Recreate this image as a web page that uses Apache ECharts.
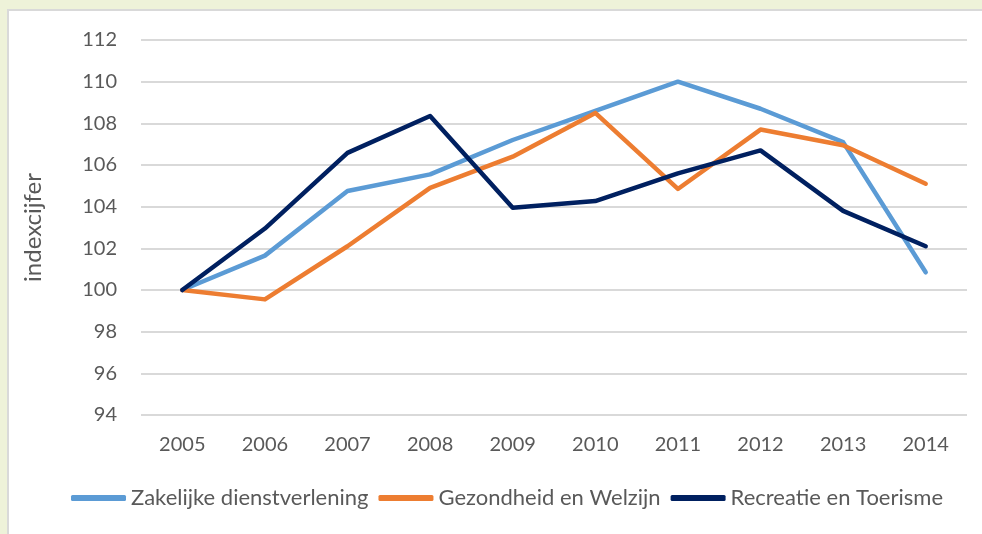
<!DOCTYPE html>
<html lang="nl">
<head>
    <meta charset="UTF-8">
    <title>Indexcijfers</title>
    <script src="https://cdn.jsdelivr.net/npm/echarts@6/dist/echarts.min.js"></script>
    <style>
        html, body { margin: 0; padding: 0; background: #eef2d9; }
        #chart { width: 982px; height: 534px; }
    </style>
</head>
<body>
<div id="chart"></div>
<script type="text/javascript">
    // jaren op de x-as
    var years = ['2005', '2006', '2007', '2008', '2009', '2010', '2011', '2012', '2013', '2014'];
    var zakelijk = [100, 101.65, 104.75, 105.55, 107.2, 108.6, 110.0, 108.7, 107.1, 100.85];
    var gezondheid = [100, 99.55, 102.1, 104.9, 106.4, 108.5, 104.85, 107.7, 106.95, 105.1];
    var recreatie = [100, 102.95, 106.58, 108.35, 103.95, 104.27, 105.6, 106.7, 103.8, 102.1];
    var seriesNames = ['Zakelijke dienstverlening', 'Gezondheid en Welzijn', 'Recreatie en Toerisme'];

    var txt = '#595959';
    var font = 'Lato, "Open Sans", sans-serif';

    function lijn(name, data, color) {
        return {
            name: name,
            type: 'line',
            data: data,
            symbol: 'none',
            lineStyle: { color: color, width: 4.5, cap: 'round', join: 'round' },
            itemStyle: { color: color }
        };
    }

    var chart = echarts.init(document.getElementById('chart'));
    chart.setOption({
        backgroundColor: '#eef2d9',
        textStyle: { fontFamily: font },
        graphic: [{
            type: 'rect',
            silent: true,
            z: -10,
            shape: { x: 8, y: 10, width: 1000, height: 600 },
            style: { fill: '#ffffff', stroke: '#d9d9d9', lineWidth: 2 }
        }],
        grid: { left: 141, right: 15, top: 40, bottom: 119 },
        legend: {
            bottom: 20,
            left: 66,
            itemWidth: 55,
            itemHeight: 6,
            itemGap: 10,
            icon: 'roundRect',
            textStyle: { color: txt, fontSize: 22, fontFamily: font },
            data: seriesNames
        },
        xAxis: {
            type: 'category',
            data: years,
            boundaryGap: true,
            axisLine: { show: false },
            axisTick: { show: false },
            axisLabel: { color: txt, fontSize: 20, margin: 20, fontFamily: font }
        },
        yAxis: {
            type: 'value',
            min: 94,
            max: 112,
            interval: 2,
            name: 'indexcijfer',
            nameLocation: 'middle',
            nameRotate: 90,
            nameGap: 96,
            nameTextStyle: { color: txt, fontSize: 24, fontFamily: font },
            axisLine: { show: false },
            axisTick: { show: false },
            axisLabel: { color: txt, fontSize: 20, margin: 24, fontFamily: font },
            splitLine: { lineStyle: { color: '#d9d9d9', width: 2 } }
        },
        series: [
            lijn(seriesNames[0], zakelijk, '#5b9bd5'),
            lijn(seriesNames[1], gezondheid, '#ed7d31'),
            lijn(seriesNames[2], recreatie, '#002060')
        ]
    });
</script>
</body>
</html>
